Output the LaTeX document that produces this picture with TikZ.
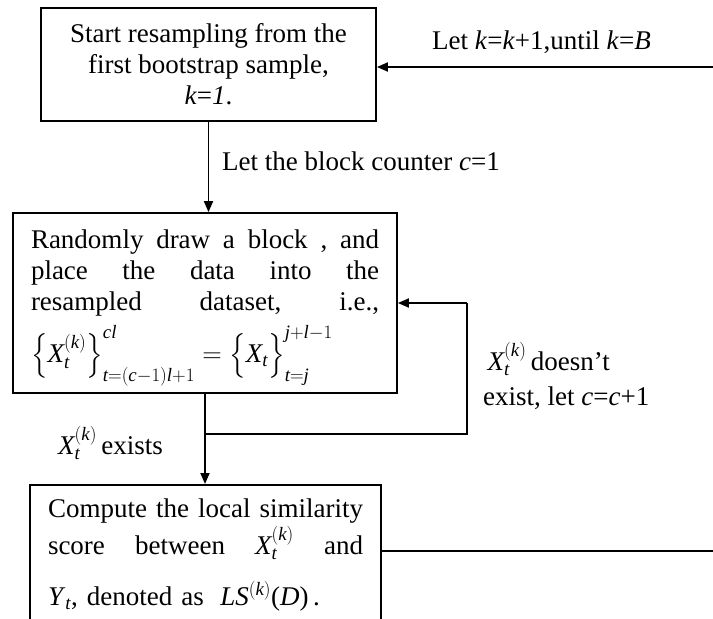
\RequirePackage{fix-cm}
\documentclass[tikz,border=0pt]{standalone}
\usepackage{amsmath}
\usepackage{fontspec}
\setmainfont{Liberation Serif}
\usetikzlibrary{arrows.meta}
\newcommand\Xk{$\textit{X}_{\textit{t}}^{(\textit{k})}$}
\newcommand\jline[2]{\leavevmode\hbox to #1{#2}}
\tikzset{
  box/.style={draw, line width=1.8pt, inner sep=0pt},
  lab/.style={inner sep=0pt, anchor=west},
  conn/.style={line width=1.8pt},
  arr/.style={line width=1.8pt, -{Triangle[length=11pt,width=9pt]}},
}
\begin{document}
\begin{tikzpicture}[x=1pt,y=-1pt,font=\fontsize{27}{31}\selectfont]
\useasboundingbox (0,0) rectangle (713,619);
\clip (0,0) rectangle (713,619);
% boxes
\node[box, minimum width=335pt, minimum height=113pt, align=center] (b1) at (208.5,64.5)
  {Start resampling from the\\first bootstrap sample,\\\textit{k}=\textit{1}.};
\node[box, minimum width=384pt, minimum height=180pt, text width=348pt, align=left] (b2) at (205,303)
  {\jline{348pt}{\rule{0pt}{28pt}Randomly\hfill draw\hfill a\hfill block\hfill ,\hfill and}\\
   \jline{348pt}{place\hfill the\hfill data\hfill into\hfill the}\\
   \jline{348pt}{resampled\hfill dataset,\hfill i.e.,}\\[9pt]
   $\Big\{\textit{X}_{\textit{t}}^{(\textit{k})}\Big\}_{\textit{t}=(\textit{c}-1)\textit{l}+1}^{\textit{cl}}
    = \Big\{\textit{X}_{\textit{t}}\Big\}_{\textit{t}=\textit{j}}^{\textit{j}+\textit{l}-1}$};
\node[box, anchor=north, minimum width=351pt, inner xsep=18pt, inner ysep=14pt, text width=315pt, align=left] (b3) at (205.5,484)
  {\jline{315pt}{Compute\hfill the\hfill local\hfill similarity}\\[2pt]
   \jline{315pt}{score\hfill between\hfill \Xk\hfill and}\\[20pt]
   \textit{Y}$_{\textit{t}}$, denoted as \;\textit{LS}$^{(\textit{k})}$(\textit{D})\,.};
% labels
\node[lab] (l1) at (222,161) {Let the block counter \textit{c}=1};
\node[lab] (l2) at (432,42) {Let \textit{k}=\textit{k}+1,until \textit{k}=\textit{B}};
\node[lab, align=left] (l3) at (483,376) {\,\Xk\,doesn't\\[4pt]exist, let \textit{c}=\textit{c}+1};
\node[lab] (l4) at (58,443) {\Xk\,exists};
% connectors
\coordinate (lp) at (467,434);
\coordinate (r1) at (713,551);
\coordinate (r2) at (713,67);
\draw[arr] (b1.south) -- (b1.south |- b2.north);
\draw[conn] (b2.south |- lp) -- (lp) -- (lp |- b2.east);
\draw[arr] (lp |- b2.east) -- (b2.east);
\draw[arr] (b2.south) -- (b2.south |- b3.north);
\draw[conn] (b3.east |- r1) -- (r1);
\draw[arr] (r2) -- (r2 -| b1.east);
\end{tikzpicture}
\end{document}
